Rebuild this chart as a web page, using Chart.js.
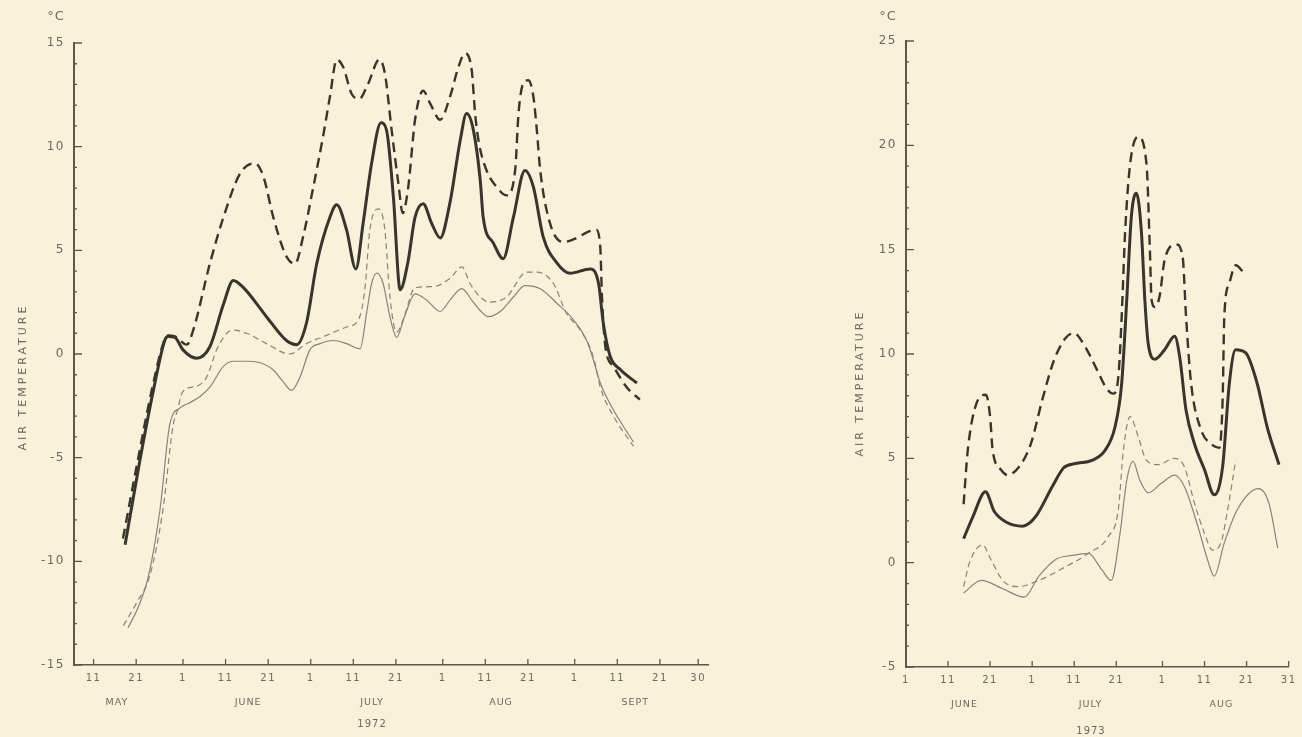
<!DOCTYPE html>
<html>
<head>
<meta charset="utf-8">
<script src="https://cdn.jsdelivr.net/npm/chart.js@4/dist/chart.umd.min.js"></script>
<style>
  html, body { margin: 0; padding: 0; background: #f9f2da; }
  #left { position: absolute; left: 0; top: 0; }
  #right { position: absolute; left: 800px; top: 0; }
</style>
</head>
<body>
<canvas id="left" width="780" height="737"></canvas>
<canvas id="right" width="502" height="737"></canvas>
<script>
// 1972 (x = days since 1 May)
const thickDashedDays72 = [16.9, 20.5, 23.6, 26.5, 27.5, 29.1, 31.9, 33.4, 37.3, 40.5, 44.4, 47.9, 49.9, 52.2, 55.3, 57.3, 59.2, 61.6, 63.9, 65.5, 67.1, 68.6, 70.6, 72.4, 74.5, 77.1, 78.4, 80.0, 81.6, 82.6, 83.9, 85.5, 87.4, 89.0, 91.4, 93.7, 95.7, 97.2, 98.8, 99.6, 100.4, 102.3, 104.7, 107.0, 109.0, 109.8, 110.9, 112.1, 113.3, 114.1, 114.9, 117.2, 120.3, 123.5, 126.2, 128.0, 129.0, 129.4, 130.2, 132.1, 135.2, 138.3];
const thickDashedTemps72 = [-8.9, -5.0, -1.8, 0.6, 0.9, 0.85, 0.45, 1.15, 4.35, 6.6, 8.7, 9.2, 8.55, 6.6, 4.7, 4.35, 5.65, 8.05, 10.5, 12.4, 14.2, 13.85, 12.55, 12.3, 13.05, 14.2, 13.55, 10.8, 8.2, 6.8, 8.05, 11.3, 12.7, 12.1, 11.3, 12.4, 13.85, 14.5, 13.7, 11.6, 10.3, 8.85, 8.05, 7.65, 8.85, 11.6, 13.05, 13.2, 12.4, 10.8, 8.85, 6.3, 5.4, 5.6, 5.9, 6.0, 5.15, 2.75, 0.35, -0.6, -1.6, -2.2];

const thickSolidDays72 = [17.4, 20.9, 24.0, 26.8, 27.5, 29.1, 31.0, 34.2, 37.3, 40.5, 42.8, 45.2, 50.6, 55.3, 57.7, 60.0, 62.4, 65.5, 67.1, 69.4, 71.6, 73.3, 75.3, 77.5, 78.8, 80.4, 82.0, 83.8, 85.5, 87.4, 89.4, 91.4, 93.7, 96.1, 97.6, 99.2, 100.8, 101.5, 103.9, 106.2, 108.6, 111.3, 113.3, 115.6, 118.8, 121.9, 126.6, 128.6, 129.7, 131.3, 133.7, 137.6];
const thickSolidTemps72 = [-9.2, -5.1, -1.8, 0.7, 0.85, 0.8, 0.2, -0.2, 0.35, 2.4, 3.55, 3.2, 1.8, 0.65, 0.45, 1.5, 4.35, 6.6, 7.2, 6.0, 4.1, 6.3, 9.2, 11.15, 10.8, 7.6, 3.1, 4.4, 6.6, 7.25, 6.3, 5.6, 7.3, 10.3, 11.6, 10.8, 8.4, 6.6, 5.35, 4.6, 6.6, 8.85, 8.05, 5.65, 4.4, 3.9, 4.1, 3.4, 1.5, -0.1, -0.75, -1.4];

const thinDashedDays72 = [17.0, 20.1, 23.2, 26.3, 28.7, 29.5, 31.0, 34.2, 36.6, 38.9, 41.3, 42.8, 45.9, 50.6, 56.1, 60.0, 64.7, 69.4, 72.2, 73.7, 74.9, 76.9, 78.4, 79.6, 81.2, 82.7, 85.5, 89.8, 93.7, 96.5, 98.4, 100.8, 103.1, 107.0, 111.7, 114.1, 118.0, 121.1, 124.3, 127.4, 129.0, 132.1, 136.8];
const thinDashedTemps72 = [-13.1, -12.0, -10.7, -7.5, -3.4, -2.85, -1.8, -1.55, -1.1, 0.2, 1.0, 1.15, 1.0, 0.5, 0.0, 0.5, 0.9, 1.3, 1.65, 3.1, 6.0, 7.0, 6.0, 2.75, 1.05, 1.65, 3.2, 3.25, 3.65, 4.2, 3.4, 2.75, 2.5, 2.75, 3.95, 3.95, 3.4, 1.95, 1.15, -0.15, -1.6, -3.0, -4.45];

const thinSolidDays72 = [18.1, 20.5, 22.8, 25.6, 27.9, 30.3, 32.6, 35.0, 37.3, 40.5, 42.8, 46.7, 51.8, 54.2, 56.5, 58.5, 60.8, 63.2, 66.3, 69.4, 72.6, 74.1, 75.3, 76.5, 78.0, 79.6, 81.2, 83.0, 85.5, 88.2, 91.4, 93.7, 96.5, 98.8, 100.8, 102.7, 105.5, 108.6, 111.3, 114.9, 118.8, 122.7, 125.8, 127.4, 129.0, 132.1, 136.8];
const thinSolidTemps72 = [-13.2, -12.2, -10.8, -7.5, -3.4, -2.6, -2.35, -2.05, -1.6, -0.6, -0.35, -0.35, -0.7, -1.25, -1.75, -1.1, 0.2, 0.5, 0.65, 0.5, 0.25, 1.95, 3.4, 3.9, 3.4, 1.8, 0.8, 1.8, 2.9, 2.6, 2.05, 2.6, 3.15, 2.6, 2.1, 1.8, 2.05, 2.75, 3.3, 3.15, 2.45, 1.65, 0.65, -0.3, -1.4, -2.7, -4.25];

const xTicks72 = [10, 20, 31, 41, 51, 61, 71, 81, 92, 102, 112, 123, 133, 143, 152];
const xLabels72 = ['11', '21', '1', '11', '21', '1', '11', '21', '1', '11', '21', '1', '11', '21', '30'];
const months72 = ['MAY', 'JUNE', 'JULY', 'AUG', 'SEPT'];
const monthDays72 = [15.5, 46.3, 75.4, 105.7, 137.2];

// 1973 (x = days since 1 June)
const thickDashedDays73 = [13.7, 14.7, 16.7, 19.0, 20.0, 20.6, 22.6, 24.1, 26.9, 29.7, 32.4, 35.2, 37.9, 39.9, 42.6, 45.4, 47.7, 49.3, 50.5, 51.3, 52.1, 53.3, 55.2, 57.2, 58.0, 58.4, 59.2, 60.3, 61.5, 64.3, 65.8, 66.6, 67.8, 70.2, 72.5, 74.5, 75.3, 75.7, 76.9, 78.4, 80.5];
const thickDashedTemps73 = [2.8, 5.4, 7.6, 8.05, 7.0, 5.4, 4.45, 4.2, 4.6, 5.7, 7.8, 9.7, 10.75, 11.0, 10.35, 9.25, 8.35, 8.1, 8.9, 11.8, 15.8, 19.1, 20.4, 19.1, 15.0, 12.6, 12.25, 12.75, 14.5, 15.25, 14.65, 11.8, 8.6, 6.35, 5.7, 5.5, 7.8, 11.8, 13.4, 14.25, 13.85];

const thickSolidDays73 = [13.7, 15.9, 18.9, 21.0, 23.8, 27.7, 30.8, 34.8, 37.5, 40.3, 44.2, 47.4, 49.7, 51.3, 52.5, 53.6, 54.8, 56.0, 56.8, 57.6, 59.2, 61.5, 63.9, 65.1, 66.6, 68.6, 71.0, 73.3, 75.3, 76.9, 78.4, 80.8, 83.5, 85.9, 88.7];
const thickSolidTemps73 = [1.15, 2.2, 3.4, 2.45, 1.95, 1.75, 2.2, 3.65, 4.55, 4.75, 4.9, 5.4, 6.5, 8.6, 12.6, 16.6, 17.7, 15.8, 12.6, 10.5, 9.75, 10.2, 10.85, 9.85, 7.3, 5.7, 4.45, 3.25, 4.6, 8.6, 10.2, 10.05, 8.6, 6.5, 4.7];

const thinDashedDays73 = [13.7, 15.1, 18.2, 20.2, 23.0, 26.5, 31.6, 37.9, 43.4, 48.1, 50.5, 51.7, 53.3, 55.2, 57.2, 59.9, 63.9, 66.2, 68.6, 71.0, 72.9, 74.9, 76.5, 78.4];
const thinDashedTemps73 = [-1.15, 0.0, 0.85, 0.15, -0.85, -1.15, -0.85, -0.2, 0.45, 1.25, 2.55, 5.4, 7.0, 6.05, 4.9, 4.7, 5.0, 4.6, 2.85, 1.4, 0.6, 0.95, 2.55, 4.9];

const thinSolidDays73 = [13.7, 17.9, 23.0, 28.1, 31.6, 35.6, 39.5, 43.4, 46.6, 48.8, 50.9, 52.5, 54.0, 55.6, 57.6, 60.7, 63.9, 66.2, 69.4, 71.7, 73.3, 75.7, 78.8, 83.9, 86.3, 88.4];
const thinSolidTemps73 = [-1.45, -0.85, -1.25, -1.65, -0.65, 0.15, 0.35, 0.45, -0.35, -0.85, 1.4, 3.95, 4.85, 3.95, 3.35, 3.8, 4.2, 3.65, 1.75, 0.15, -0.65, 0.95, 2.55, 3.55, 2.85, 0.7];

const xTicks73 = [0, 10, 20, 30, 40, 50, 61, 71, 81, 91];
const xLabels73 = ['1', '11', '21', '1', '11', '21', '1', '11', '21', '31'];
const months73 = ['JUNE', 'JULY', 'AUG'];
const monthDays73 = [13.9, 43.9, 75];

const inkDark = '#3b342c';
const inkLight = '#8a8377';
const textColor = '#6f685c';
const axisColor = '#5f574b';

function points(days, temps) {
    return days.map((d, i) => ({ x: d, y: temps[i] }));
}

function series(days, temps, heavy, dashed) {
    return {
        data: points(days, temps),
        borderColor: heavy ? inkDark : inkLight,
        borderWidth: heavy ? (dashed ? 2.4 : 3) : 1.2,
        borderDash: dashed ? (heavy ? [10, 6] : [6, 4]) : [],
        pointRadius: 0,
        fill: false,
        cubicInterpolationMode: 'monotone'
    };
}

// inner tick marks, month names, year, unit and axis title
function makeDecor(cfg) {
    return {
        id: 'decor',
        beforeDraw(chart) {
            chart.ctx.letterSpacing = '1.5px';
        },
        afterDraw(chart) {
            const ctx = chart.ctx;
            const a = chart.chartArea;
            const x = chart.scales.x;
            const y = chart.scales.y;
            ctx.save();
            ctx.strokeStyle = axisColor;
            ctx.lineWidth = 1.3;
            ctx.beginPath();
            for (let v = y.min; v <= y.max; v++) {
                const py = y.getPixelForValue(v);
                const len = v % 5 === 0 ? 8 : 3;
                ctx.moveTo(a.left, py);
                ctx.lineTo(a.left + len, py);
            }
            cfg.xTicks.forEach(v => {
                const px = x.getPixelForValue(v);
                ctx.moveTo(px, a.bottom);
                ctx.lineTo(px, a.bottom - 6);
            });
            ctx.stroke();

            ctx.fillStyle = textColor;
            ctx.textAlign = 'center';
            ctx.textBaseline = 'middle';
            ctx.letterSpacing = '1px';
            ctx.font = '9.5px "DejaVu Sans"';
            cfg.months.forEach((m, i) => {
                ctx.fillText(m, x.getPixelForValue(cfg.monthDays[i]), cfg.monthY);
            });
            ctx.font = '10px "DejaVu Sans"';
            ctx.fillText(cfg.year, x.getPixelForValue(cfg.yearDay), cfg.yearY);

            ctx.font = '13px "DejaVu Sans"';
            ctx.fillText('°C', a.left - 18, 17);

            ctx.letterSpacing = '3px';
            ctx.font = '11px "DejaVu Sans"';
            ctx.translate(a.left - cfg.titleGap, cfg.titleY);
            ctx.rotate(-Math.PI / 2);
            ctx.fillText('AIR TEMPERATURE', 0, 0);
            ctx.restore();
        }
    };
}

function makeChart(id, cfg) {
    const ctx = document.getElementById(id).getContext('2d');
    return new Chart(ctx, {
        type: 'line',
        data: { datasets: cfg.datasets },
        options: {
            responsive: false,
            animation: false,
            events: [],
            layout: { padding: cfg.padding },
            plugins: { legend: { display: false }, tooltip: { enabled: false } },
            scales: {
                x: {
                    type: 'linear',
                    min: cfg.xMin,
                    max: cfg.xMax,
                    afterFit: s => { s.height = cfg.xHeight; },
                    afterBuildTicks: s => { s.ticks = cfg.xTicks.map(v => ({ value: v })); },
                    grid: { display: false, drawTicks: false },
                    border: { display: true, color: axisColor, width: 1.6 },
                    ticks: {
                        autoSkip: false,
                        maxRotation: 0,
                        minRotation: 0,
                        padding: 7,
                        color: textColor,
                        font: { family: 'DejaVu Sans', size: 10 },
                        callback: (v, i) => cfg.xLabels[i]
                    }
                },
                y: {
                    min: cfg.yMin,
                    max: cfg.yMax,
                    afterFit: s => { s.width = cfg.yWidth; },
                    grid: { display: false, drawTicks: false },
                    border: { display: true, color: axisColor, width: 2 },
                    ticks: {
                        stepSize: 5,
                        padding: 9,
                        color: textColor,
                        font: { family: 'DejaVu Sans', size: 12 }
                    }
                }
            }
        },
        plugins: [makeDecor(cfg)]
    });
}

makeChart('left', {
    datasets: [
        series(thickDashedDays72, thickDashedTemps72, true, true),
        series(thickSolidDays72, thickSolidTemps72, true, false),
        series(thinDashedDays72, thinDashedTemps72, false, true),
        series(thinSolidDays72, thinSolidTemps72, false, false)
    ],
    padding: { left: 0, top: 43, right: 72, bottom: 0 },
    xMin: 5.4, xMax: 154.3, xHeight: 72, yWidth: 74,
    yMin: -15, yMax: 15,
    xTicks: xTicks72, xLabels: xLabels72,
    months: months72, monthDays: monthDays72, monthY: 703,
    year: '1972', yearDay: 75.4, yearY: 724,
    titleGap: 51, titleY: 377
});

makeChart('right', {
    datasets: [
        series(thickDashedDays73, thickDashedTemps73, true, true),
        series(thickSolidDays73, thickSolidTemps73, true, false),
        series(thinDashedDays73, thinDashedTemps73, false, true),
        series(thinSolidDays73, thinSolidTemps73, false, false)
    ],
    padding: { left: 0, top: 41, right: 10, bottom: 0 },
    xMin: 0, xMax: 91, xHeight: 70, yWidth: 106,
    yMin: -5, yMax: 25,
    xTicks: xTicks73, xLabels: xLabels73,
    months: months73, monthDays: monthDays73, monthY: 705,
    year: '1973', yearDay: 44, yearY: 731,
    titleGap: 46, titleY: 383
});
</script>
</body>
</html>
